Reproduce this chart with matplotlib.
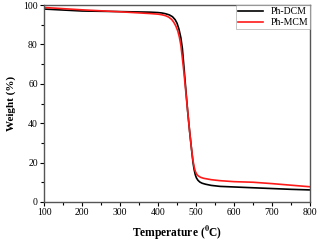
import numpy as np
import matplotlib
matplotlib.use('Agg')
import matplotlib.pyplot as plt
from matplotlib.ticker import MultipleLocator

plt.rcParams['font.family'] = ['Liberation Serif', 'DejaVu Serif']
plt.rcParams['mathtext.fontset'] = 'stix'

# TGA curves
temp_dcm = [100, 200, 300, 380, 400, 410, 420, 430, 438, 445, 450, 455, 460, 464, 468, 474, 478, 483, 488, 492, 495, 498, 501, 505, 510, 516, 525, 540, 563, 600, 650, 700, 750, 800]
wt_dcm = [98.0, 97.0, 96.7, 96.4, 96.2, 96.0, 95.6, 95.0, 94.1, 92.6, 90.8, 87.8, 83.5, 78.0, 69.0, 55.0, 46.0, 36.0, 27.0, 20.0, 16.4, 13.8, 12.2, 11.0, 10.1, 9.5, 9.0, 8.4, 7.9, 7.6, 7.2, 6.8, 6.4, 6.1]
temp_mcm = [100, 200, 300, 380, 400, 410, 420, 428, 436, 442, 447, 452, 456, 460, 464, 468, 474, 478, 483, 488, 492, 495, 498, 502, 506, 512, 520, 540, 563, 600, 650, 700, 750, 800]
wt_mcm = [98.8, 97.6, 96.6, 95.7, 95.4, 95.1, 94.6, 93.9, 92.7, 91.1, 89.3, 86.8, 83.8, 79.7, 73.0, 66.0, 54.0, 46.0, 36.0, 27.0, 21.0, 17.8, 15.6, 14.0, 13.2, 12.5, 12.0, 11.3, 10.8, 10.3, 10.0, 9.3, 8.5, 7.7]

fig = plt.figure(figsize=(3.19, 2.43), dpi=100)
ax = fig.add_axes([0.138, 0.169, 0.834, 0.81])

ax.plot(temp_dcm, wt_dcm, color='black', lw=1.2, label='Ph-DCM')
ax.plot(temp_mcm, wt_mcm, color='#ff1a1a', lw=1.2, label='Ph-MCM')

ax.set_xlim(100, 800)
ax.set_ylim(0, 100)
ax.xaxis.set_major_locator(MultipleLocator(100))
ax.xaxis.set_minor_locator(MultipleLocator(50))
ax.yaxis.set_major_locator(MultipleLocator(20))
ax.yaxis.set_minor_locator(MultipleLocator(10))
ax.tick_params(which='both', direction='out', labelsize=7, width=0.8, pad=1.5)
ax.tick_params(which='major', length=3)
ax.tick_params(which='minor', length=2)
for s in ax.spines.values():
    s.set_color('#555555')
    s.set_linewidth(1.0)

ax.set_xlabel(r'Temperature ($\mathbf{^0}$C)', fontsize=8.3, fontweight='bold', labelpad=5)
ax.set_ylabel('Weight (%)', fontsize=8, fontweight='bold', labelpad=5)

leg = ax.legend(loc='upper right', fontsize=7, frameon=True, fancybox=False,
                borderaxespad=0.0, handlelength=2.5, borderpad=0.2, labelspacing=0.2)
leg.get_frame().set_edgecolor('#999999')
leg.get_frame().set_linewidth(0.5)

fig.savefig('out.png', dpi=100)
